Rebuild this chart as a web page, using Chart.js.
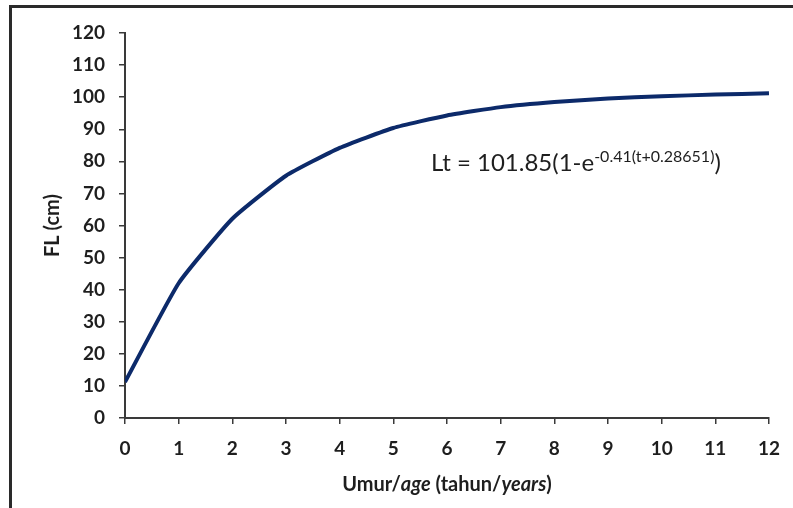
<!DOCTYPE html>
<html>
<head>
<meta charset="utf-8">
<script src="https://cdn.jsdelivr.net/npm/chart.js@4.4.0/dist/chart.umd.min.js"></script>
<style>
  html, body { margin: 0; padding: 0; background: #fff; }
  #wrap { position: relative; width: 793px; height: 508px; }
  #frame { position: absolute; left: 9px; top: 5px; right: 0; bottom: 0;
           border-left: 3px solid #2a2a2a; border-top: 3px solid #2a2a2a; pointer-events: none; }
</style>
</head>
<body>
<div id="wrap">
  <canvas id="mycanvas" width="793" height="508"></canvas>
  <div id="frame"></div>
</div>
<script>
// values
var ages = [0, 1, 2, 3, 4, 5, 6, 7, 8, 9, 10, 11, 12];
var lengths = [11.2, 42, 62.1, 75.5, 84.2, 90.4, 94.3, 96.9, 98.5, 99.6, 100.3, 100.8, 101.2];
var yMin = 0, yMax = 120, yStep = 10;
var xMin = 0, xMax = 12;

var fontName = "Lato, 'Open Sans', sans-serif";
var axisColor = "#3a3a3a";
var textColor = "#1e1e1e";

var points = [];
for (var i in ages) {
    points.push({x: ages[i], y: lengths[i]});
}

// axis titles and the equation, drawn on the canvas
var labelsPlugin = {
    id: 'labels',
    afterDraw: function(chart) {
        var ctx = chart.ctx;
        var area = chart.chartArea;
        var xs = chart.scales.x, ys = chart.scales.y;
        ctx.save();
        ctx.fillStyle = textColor;

        // y title
        ctx.font = "bold 20px " + fontName;
        ctx.textAlign = "center";
        ctx.textBaseline = "middle";
        ctx.translate(53, (area.top + area.bottom) / 2);
        ctx.rotate(-Math.PI / 2);
        ctx.fillText("FL (cm)", 0, 0);
        ctx.setTransform(1, 0, 0, 1, 0, 0);

        // x title with italic parts
        var parts = [
            ["bold ", "Umur/"], ["italic bold ", "age"], ["bold ", " (tahun/"],
            ["italic bold ", "years"], ["bold ", ")"]
        ];
        var total = 0;
        for (var p in parts) {
            ctx.font = parts[p][0] + "20px " + fontName;
            total += ctx.measureText(parts[p][1]).width;
        }
        var tx = (area.left + area.right) / 2 - total / 2;
        ctx.textAlign = "left";
        ctx.textBaseline = "alphabetic";
        for (var p in parts) {
            ctx.font = parts[p][0] + "20px " + fontName;
            ctx.fillText(parts[p][1], tx, 491);
            tx += ctx.measureText(parts[p][1]).width;
        }

        // equation
        var ex = xs.getPixelForValue(5.7);
        var ey = ys.getPixelForValue(77.1);
        ctx.font = "24px " + fontName;
        ctx.fillText("Lt = 101.85(1-e", ex, ey);
        ex += ctx.measureText("Lt = 101.85(1-e").width;
        ctx.font = "16px " + fontName;
        ctx.fillText("-0.41(t+0.28651)", ex, ey - 9);
        ex += ctx.measureText("-0.41(t+0.28651)").width;
        ctx.font = "24px " + fontName;
        ctx.fillText(")", ex, ey);
        ctx.restore();
    }
};

var chartdata = {
    datasets: [
        {
            label: "FL",
            data: points,
            borderColor: "#0c2a6a",
            backgroundColor: "#0c2a6a",
            borderWidth: 4,
            pointRadius: 0,
            tension: 0.15,
            fill: false
        }
    ]
};

var ctx = document.getElementById("mycanvas");

var LineGraph = new Chart(ctx, {
    type: 'line',
    data: chartdata,
    options: {
        responsive: false,
        animation: false,
        layout: { padding: { left: 0, right: 21, top: 33, bottom: 0 } },
        plugins: { legend: { display: false }, tooltip: { enabled: false } },
        scales: {
            x: {
                type: 'linear',
                min: xMin,
                max: xMax,
                afterFit: function(scale) { scale.height = 508 - 418; },
                ticks: { stepSize: 1, color: textColor, font: { family: fontName, size: 19, weight: 'bold' }, padding: 13 },
                grid: { drawOnChartArea: false, drawTicks: true, tickLength: 6, color: axisColor, lineWidth: 1.5 },
                border: { color: axisColor, width: 2 }
            },
            y: {
                min: yMin,
                max: yMax,
                afterFit: function(scale) { scale.width = 125; },
                ticks: { stepSize: yStep, color: textColor, font: { family: fontName, size: 19, weight: 'bold' }, padding: 14 },
                grid: { drawOnChartArea: false, drawTicks: true, tickLength: 6, color: axisColor, lineWidth: 1.5 },
                border: { color: axisColor, width: 2 }
            }
        }
    },
    plugins: [labelsPlugin]
});
</script>
</body>
</html>
